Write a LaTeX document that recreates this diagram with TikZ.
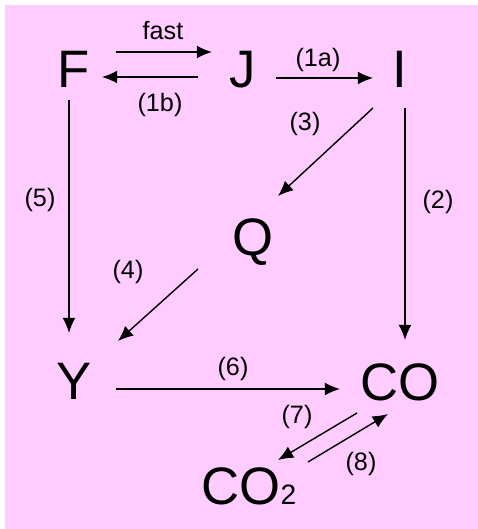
\documentclass[tikz,border=0pt]{standalone}
\usepackage{fontspec}
\setmainfont{Liberation Sans}
\usetikzlibrary{arrows.meta,calc}
\definecolor{bgpink}{RGB}{255,204,255}
\begin{document}
\begin{tikzpicture}[x=0.03cm, y=-0.03cm,
        species/.style={inner sep=0pt, text height=32.2pt, text depth=0pt, font=\fontsize{45}{45}\selectfont},
        rate/.style={inner sep=0pt, font=\fontsize{21.5}{21.5}\selectfont},
        arrow/.style={-{Latex[length=13pt,width=11pt]}, line width=1.2pt}
    ]
    \useasboundingbox (0,0) rectangle (478,529);
    \fill[bgpink] (5,5) rectangle (478,529);

    % Species
    \node[species] (F) at (74,69) {F};
    \node[species] (J) at (243,69) {J};
    \node[species] (I) at (400,69) {I};
    \node[species] (Q) at (253,237) {Q};
    \node[species] (Y) at (74,381) {Y};
    \node[species] (CO) at (400,382) {CO};
    \node[species] (CO2) at (249,486) {CO{\fontsize{24}{24}\selectfont 2}};

    % Reactions
    \draw[arrow] ($(F)+(42,-17)$) -- ($(J)+(-31,-17)$);
    \draw[arrow] ($(J)+(-45,8)$) -- ($(F)+(28,8)$);
    \draw[arrow] ($(J)+(33,9)$) -- ($(I)+(-27,9)$);
    \draw[arrow] ($(I)+(-27,39)$) -- ($(Q)+(25,-41)$);
    \draw[arrow] ($(I)+(5,39)$) -- ($(CO)+(5,-42)$);
    \draw[arrow] ($(F)+(-5,31)$) -- ($(Y)+(-5,-48)$);
    \draw[arrow] ($(Q)+(-55,32)$) -- ($(Y)+(44,-40)$);
    \draw[arrow] ($(Y)+(42,8)$) -- ($(CO)+(-60,7)$);
    \draw[arrow] ($(CO)+(-43,31)$) -- ($(CO2)+(29,-26)$);
    \draw[arrow] ($(CO2)+(59,-24)$) -- ($(CO)+(-12,32)$);

    % Rate labels
    \node[rate] (fast) at (163,31) {fast};
    \node[rate] (r1b) at (160,105) {(1b)};
    \node[rate] (r1a) at (318,60) {(1a)};
    \node[rate] (r3) at (305,124) {(3)};
    \node[rate] (r2) at (438,202) {(2)};
    \node[rate] (r5) at (40,200) {(5)};
    \node[rate] (r4) at (128,272) {(4)};
    \node[rate] (r6) at (233,369) {(6)};
    \node[rate] (r7) at (297,417) {(7)};
    \node[rate] (r8) at (361,464) {(8)};
\end{tikzpicture}
\end{document}
